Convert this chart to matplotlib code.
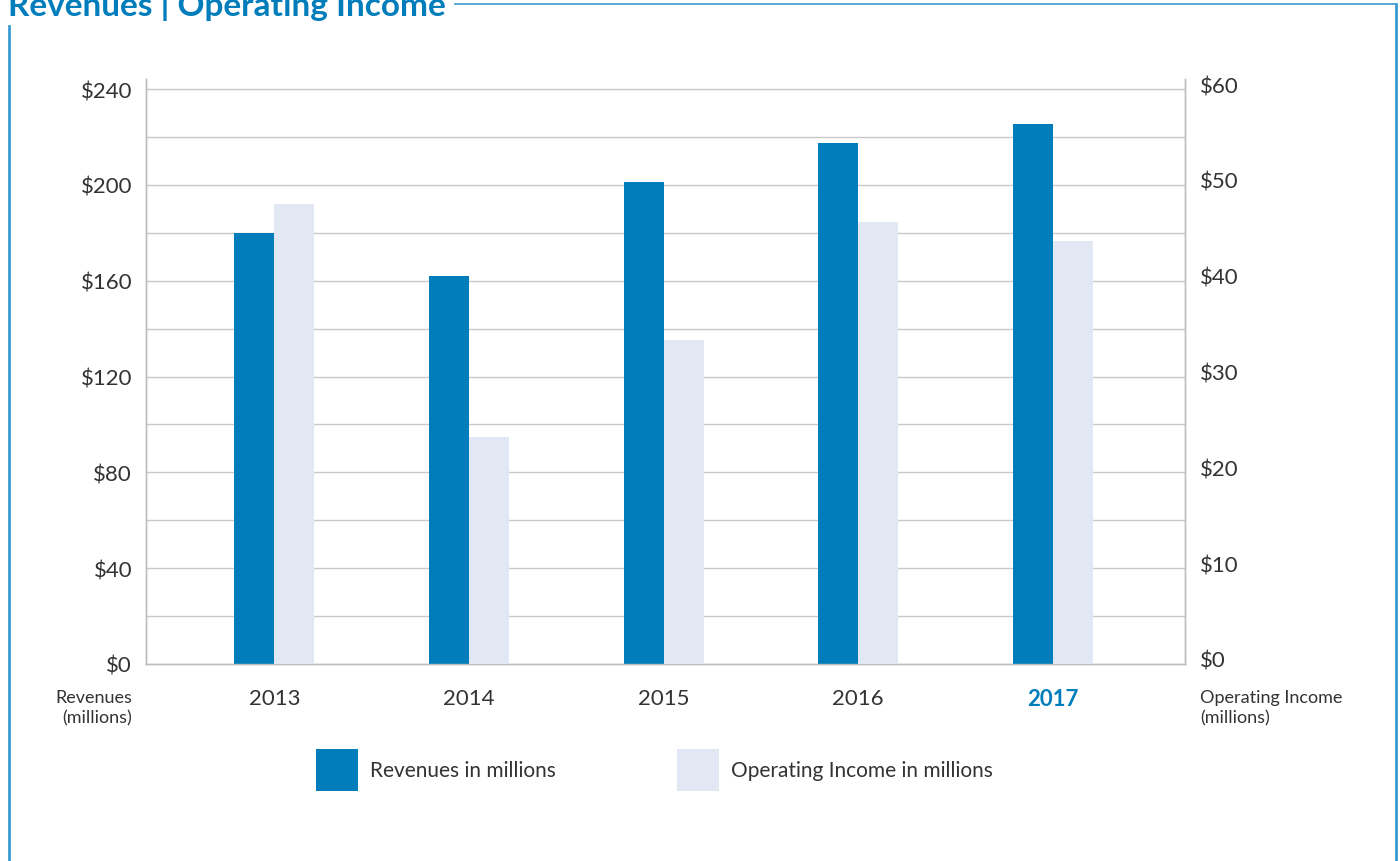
import matplotlib
matplotlib.use("Agg")
import matplotlib.pyplot as plt
from matplotlib.patches import Rectangle
from matplotlib.lines import Line2D
import matplotlib.transforms as mtrans

years = ["2013", "2014", "2015", "2016", "2017"]
revenues = [180, 162, 201, 217.5, 225.5]
op_income = [48, 23.7, 33.8, 46.1, 44.1]
left_ticks = [0, 40, 80, 120, 160, 200, 240]
right_ticks = [0, 10, 20, 30, 40, 50, 60]
legend_labels = ["Revenues in millions", "Operating Income in millions"]

BLUE = "#007DBA"
LIGHT = "#E1E8F4"
TXT = "#333333"
GRID = "#C8C8C8"
FRAME = "#3C9AD2"

plt.rcParams['font.family'] = ['Lato', 'DejaVu Sans']

W, H = 1400, 862
fig = plt.figure(figsize=(14, 8.62), dpi=100)

def fx(px):
    return px / W

def fy(py):
    return 1 - py / H

ax = fig.add_axes([fx(146), fy(665), fx(1185) - fx(146), fy(80) - fy(665)])
ax2 = ax.twinx()

x = list(range(len(years)))
bw = 0.2055
ax.bar([i - bw / 2 for i in x], revenues, width=bw, color=BLUE, zorder=3)
ax2.bar([i + bw / 2 for i in x], op_income, width=bw, color=LIGHT, zorder=3)

ymax = 244.2
ax.set_ylim(0, ymax)
ax2.set_ylim(0, ymax / 4)
ax.set_xlim(-0.66, 4.68)

for v in range(20, 241, 20):
    ax.axhline(v, color=GRID, lw=1, zorder=1)

for a in (ax, ax2):
    a.spines['top'].set_visible(False)
    for s in ('left', 'right', 'bottom'):
        a.spines[s].set_color("#BDBDBD")
        a.spines[s].set_linewidth(1)
    a.tick_params(length=0)

TICKFS = 16
ax.set_yticks(left_ticks)
ax.set_yticklabels([f"${v}" for v in left_ticks], fontsize=TICKFS, color=TXT)
ax.tick_params(axis='y', pad=10)

ax2.set_yticks(right_ticks)
ax2.set_yticklabels([f"${v}" for v in right_ticks], fontsize=TICKFS, color=TXT)
ax2.tick_params(axis='y', pad=11)
off = mtrans.ScaledTranslation(0, 5 / 100, fig.dpi_scale_trans)
for lbl in ax2.get_yticklabels():
    lbl.set_transform(lbl.get_transform() + off)

ax.set_xticks(x)
ax.set_xticklabels(years, fontsize=TICKFS, color=TXT)
ax.tick_params(axis='x', pad=17)
xl = ax.get_xticklabels()
xl[-1].set_color(BLUE)
xl[-1].set_fontweight('bold')

fig.text(fx(132), fy(690), "Revenues\n(millions)", ha='right', va='top',
         fontsize=13, color=TXT, linespacing=1.3)
fig.text(fx(1200), fy(690), "Operating Income\n(millions)", ha='left', va='top',
         fontsize=13, color=TXT, linespacing=1.3)

fig.text(fx(8), fy(16), "Revenues | Operating Income", ha='left', va='baseline',
         fontsize=24, fontweight='bold', color=BLUE)

fig.add_artist(Line2D([fx(455), fx(1396)], [fy(5), fy(5)], color=FRAME, lw=1.2,
                      transform=fig.transFigure))
fig.add_artist(Line2D([fx(9), fx(9)], [fy(27), fy(862)], color=FRAME, lw=2,
                      transform=fig.transFigure))
fig.add_artist(Line2D([fx(1396), fx(1396)], [fy(5), fy(862)], color=FRAME, lw=2,
                      transform=fig.transFigure))

leg_x = [316, 677]
for xx, col, lab in zip(leg_x, [BLUE, LIGHT], legend_labels):
    fig.add_artist(Rectangle((fx(xx), fy(792)), fx(42), fy(750) - fy(792),
                             facecolor=col, edgecolor='none', transform=fig.transFigure))
    fig.text(fx(xx + 54), fy(771), lab, ha='left', va='center', fontsize=15, color=TXT)

fig.savefig("out.png", dpi=100)
